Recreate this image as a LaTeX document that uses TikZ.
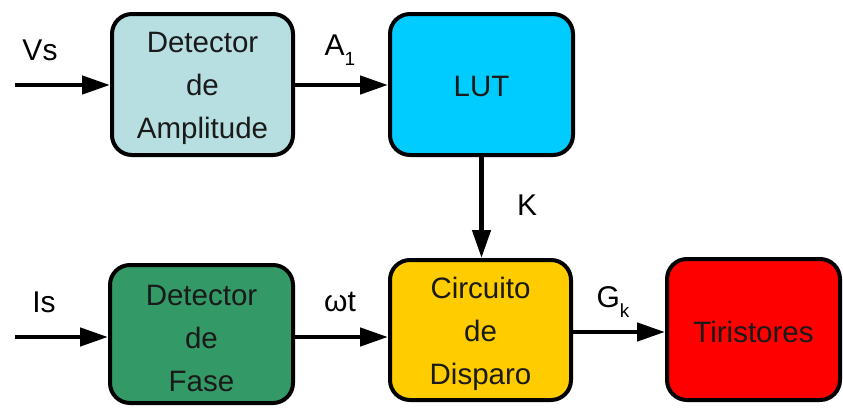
\documentclass[tikz,border=0pt]{standalone}
\usepackage{fontspec}
\setmainfont{Liberation Sans}
\usetikzlibrary{arrows.meta}
\definecolor{ampc}{HTML}{B7DFE2}
\definecolor{lutc}{HTML}{00CCFF}
\definecolor{fasec}{HTML}{339966}
\definecolor{dispc}{HTML}{FFCC00}
\definecolor{tirc}{HTML}{FF0000}
\definecolor{txtc}{HTML}{1A1A1A}
\tikzset{
  blk/.style={draw=black, line width=4pt, rounded corners=20pt, inner sep=0pt},
  btxt/.style={align=center, text=txtc, font=\fontsize{29.5}{43}\selectfont, inner sep=0pt, yshift=-4pt},
  sig/.style={line width=4.5pt, -{Triangle[length=28pt,width=18pt]}},
  lbl/.style={font=\fontsize{30}{30}\selectfont, text=black, inner sep=0pt},
}
\newcommand{\sbs}[1]{\raisebox{-0.35em}{\fontsize{19}{19}\selectfont #1}}
\begin{document}
\begin{tikzpicture}[x=1pt,y=-1pt]
\useasboundingbox (0,0) rectangle (843,407);
\node[blk, fill=ampc, minimum width=181pt, minimum height=141pt] (amp) at (202.5,84.5) {};
\node[blk, fill=lutc, minimum width=183pt, minimum height=141pt] (lut) at (481.5,84.5) {};
\node[blk, fill=fasec, minimum width=183pt, minimum height=138pt] (fase) at (201.5,334) {};
\node[blk, fill=dispc, minimum width=181pt, minimum height=140pt] (disp) at (480.5,330) {};
\node[blk, fill=tirc, minimum width=173pt, minimum height=141pt] (tir) at (753.5,329.5) {};
\node[btxt] (ampt) at (amp) {Detector\\de\\Amplitude};
\node[btxt, yshift=2pt] (lutt) at (lut) {LUT};
\node[btxt] (faset) at (fase) {Detector\\de\\Fase};
\node[btxt] (dispt) at (disp) {Circuito\\de\\Disparo};
\node[btxt, yshift=2pt] (tirt) at (tir) {Tiristores};
\coordinate (in1) at (15,85);
\coordinate (in2) at (15,337);
\draw[sig] (in1) -- (in1 -| amp.west);
\draw[sig] (amp.east |- in1) -- (lut.west |- in1);
\draw[sig] (lut.south) -- (lut.south |- disp.north);
\draw[sig] (in2) -- (in2 -| fase.west);
\draw[sig] (fase.east |- in2) -- (disp.west |- in2);
\draw[sig] (disp.east |- 0,332) -- (tir.west |- 0,332);
\node[lbl] (vs) at (40,50) {Vs};
\node[lbl] (a1) at (340,50) {A\sbs{1}};
\node[lbl] (k) at (527,205) {K};
\node[lbl] (is) at (44,302) {Is};
\node[lbl] (wt) at (340,302) {ωt};
\node[lbl] (gk) at (613,302) {G\sbs{k}};
\end{tikzpicture}
\end{document}
